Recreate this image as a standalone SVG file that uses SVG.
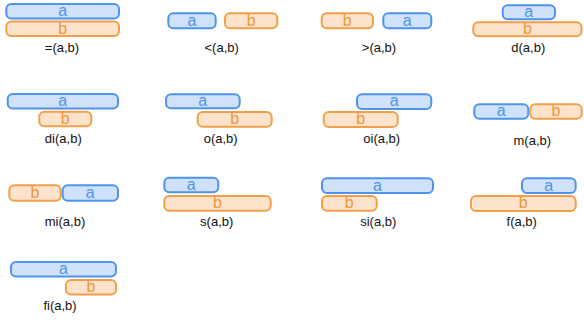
<svg xmlns="http://www.w3.org/2000/svg" width="584" height="320" viewBox="0 0 584 320">
<style>
.a rect{fill:#cfe2fa;stroke:#4f94ec;stroke-width:2}
.b rect{fill:#fde3cc;stroke:#f2a047;stroke-width:2}
.a text{fill:#4f94ec}
.b text{fill:#f0963a}
text{font-family:"Liberation Sans",Arial,sans-serif;text-anchor:middle}
.a text,.b text{font-size:16px}
.lbl{font-size:13px;fill:#111}
</style>
<rect width="584" height="320" fill="#fff"/>

<g id="eq">
 <g id="eq-a" class="a"><rect x="6.3" y="4" width="112.7" height="14.5" rx="5"/><text x="62.6" y="16">a</text></g>
 <g id="eq-b" class="b"><rect x="6.3" y="21.5" width="112.7" height="14.5" rx="5"/><text x="62.6" y="33.5">b</text></g>
 <text class="lbl" x="62" y="52.3">=(a,b)</text>
</g>

<g id="lt">
 <g id="lt-a" class="a"><rect x="168.3" y="13.3" width="47.4" height="15" rx="5"/><text x="192" y="25.8">a</text></g>
 <g id="lt-b" class="b"><rect x="225" y="13.3" width="52.3" height="15" rx="5"/><text x="251.2" y="25.8">b</text></g>
 <text class="lbl" x="221.7" y="52.3">&lt;(a,b)</text>
</g>

<g id="gt">
 <g id="gt-b" class="b"><rect x="321.7" y="13.3" width="51.3" height="15" rx="5"/><text x="347.3" y="25.8">b</text></g>
 <g id="gt-a" class="a"><rect x="383.3" y="13.3" width="48" height="15" rx="5"/><text x="407.3" y="25.8">a</text></g>
 <text class="lbl" x="379" y="52.3">&gt;(a,b)</text>
</g>

<g id="d">
 <g id="d-a" class="a"><rect x="502.7" y="5.3" width="52.3" height="14" rx="5"/><text x="528.8" y="17.3">a</text></g>
 <g id="d-b" class="b"><rect x="473.3" y="22.3" width="108.2" height="14" rx="5"/><text x="527.4" y="34.3">b</text></g>
 <text class="lbl" x="528.3" y="52.3">d(a,b)</text>
</g>

<g id="di">
 <g id="di-a" class="a"><rect x="7.7" y="94" width="110.3" height="14.5" rx="5"/><text x="62.8" y="106">a</text></g>
 <g id="di-b" class="b"><rect x="39.3" y="111.7" width="52" height="14.6" rx="5"/><text x="65.3" y="123.7">b</text></g>
 <text class="lbl" x="63.3" y="143">di(a,b)</text>
</g>

<g id="o">
 <g id="o-a" class="a"><rect x="166" y="94.3" width="73.7" height="14" rx="5"/><text x="202.8" y="106">a</text></g>
 <g id="o-b" class="b"><rect x="197.7" y="112" width="74" height="14.7" rx="5"/><text x="234.7" y="124">b</text></g>
 <text class="lbl" x="220.7" y="143">o(a,b)</text>
</g>

<g id="oi">
 <g id="oi-a" class="a"><rect x="357" y="94.3" width="74.3" height="14.7" rx="5"/><text x="394.2" y="106.3">a</text></g>
 <g id="oi-b" class="b"><rect x="323.7" y="112" width="74" height="15" rx="5"/><text x="360.7" y="124.3">b</text></g>
 <text class="lbl" x="381.7" y="143">oi(a,b)</text>
</g>

<g id="m">
 <g id="m-a" class="a"><rect x="474.3" y="104.3" width="54" height="14.4" rx="5"/><text x="501.3" y="116.3">a</text></g>
 <g id="m-b" class="b"><rect x="530.3" y="104.3" width="51.4" height="14.4" rx="5"/><text x="556" y="116.3">b</text></g>
 <text class="lbl" x="532.3" y="145">m(a,b)</text>
</g>

<g id="mi">
 <g id="mi-b" class="b"><rect x="9.3" y="185.3" width="51.4" height="15.4" rx="5"/><text x="35" y="197.8">b</text></g>
 <g id="mi-a" class="a"><rect x="62.7" y="185.3" width="55.3" height="15.4" rx="5"/><text x="90.3" y="197.8">a</text></g>
 <text class="lbl" x="65" y="226.3">mi(a,b)</text>
</g>

<g id="s">
 <g id="s-a" class="a"><rect x="164.3" y="177.7" width="54" height="14.6" rx="5"/><text x="191.3" y="189.8">a</text></g>
 <g id="s-b" class="b"><rect x="164.3" y="196" width="106.4" height="14.7" rx="5"/><text x="217.5" y="208">b</text></g>
 <text class="lbl" x="216.7" y="226.3">s(a,b)</text>
</g>

<g id="si">
 <g id="si-a" class="a"><rect x="322" y="178.3" width="111" height="14.7" rx="5"/><text x="377.5" y="190.5">a</text></g>
 <g id="si-b" class="b"><rect x="322" y="196" width="54.7" height="14.7" rx="5"/><text x="349.3" y="208">b</text></g>
 <text class="lbl" x="378.3" y="226.3">si(a,b)</text>
</g>

<g id="f">
 <g id="f-a" class="a"><rect x="522" y="178.3" width="53.7" height="14.7" rx="5"/><text x="548.8" y="190.5">a</text></g>
 <g id="f-b" class="b"><rect x="471" y="196" width="104.7" height="15" rx="5"/><text x="523.3" y="208.2">b</text></g>
 <text class="lbl" x="521.7" y="226.3">f(a,b)</text>
</g>

<g id="fi">
 <g id="fi-a" class="a"><rect x="11" y="262" width="105" height="14.5" rx="5"/><text x="63.5" y="274">a</text></g>
 <g id="fi-b" class="b"><rect x="66" y="280" width="50" height="14.5" rx="5"/><text x="91" y="292">b</text></g>
 <text class="lbl" x="60" y="310">fi(a,b)</text>
</g>
</svg>
